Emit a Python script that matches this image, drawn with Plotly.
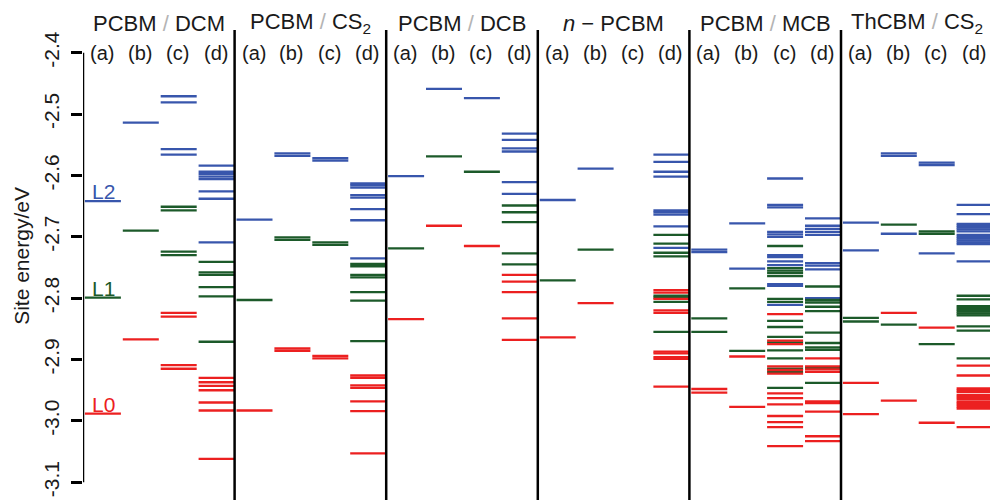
import plotly.graph_objects as go

# ---------------- data ----------------
panel_titles = ["PCBM<span style='color:#b4b4b4'> / </span>DCM",
                "PCBM<span style='color:#b4b4b4'> / </span>CS<sub>2</sub>",
                "PCBM<span style='color:#b4b4b4'> / </span>DCB",
                "<i>n</i> \u2212 PCBM",
                "PCBM<span style='color:#b4b4b4'> / </span>MCB",
                "ThCBM<span style='color:#b4b4b4'> / </span>CS<sub>2</sub>"]
column_labels = ["(a)", "(b)", "(c)", "(d)"]
tick_values = [-2.4, -2.5, -2.6, -2.7, -2.8, -2.9, -3.0, -3.1]
tick_labels = ["-2.4", "-2.5", "-2.6", "-2.7", "-2.8", "-2.9", "-3.0", "-3.1"]
level_names = ["L2", "L1", "L0"]

# site energies (eV), one list per column (a)-(d)
DCM_L2 = [[-2.642], [-2.514], [-2.471, -2.481, -2.557, -2.566],
          [-2.584, -2.594, -2.598, -2.602, -2.606, -2.626, -2.638, -2.709]]
DCM_L1 = [[-2.799], [-2.690], [-2.651, -2.657, -2.724, -2.730],
          [-2.741, -2.758, -2.762, -2.782, -2.797, -2.871]]
DCM_L0 = [[-2.988], [-2.867], [-2.824, -2.830, -2.909, -2.915],
          [-2.930, -2.937, -2.943, -2.950, -2.970, -2.983, -3.062]]

CS2_L2 = [[-2.672], [-2.564, -2.568], [-2.572, -2.576],
          [-2.613, -2.616, -2.620, -2.632, -2.636, -2.655, -2.673, -2.735]]
CS2_L1 = [[-2.803], [-2.701, -2.705], [-2.709, -2.713],
          [-2.744, -2.748, -2.762, -2.766, -2.790, -2.804, -2.870]]
CS2_L0 = [[-2.983], [-2.882, -2.886], [-2.894, -2.898],
          [-2.926, -2.930, -2.942, -2.946, -2.968, -2.984, -3.053]]

DCB_L2 = [[-2.601], [-2.459], [-2.474], [-2.532, -2.542, -2.556, -2.561, -2.611, -2.630]]
DCB_L1 = [[-2.719], [-2.569], [-2.594], [-2.649, -2.660, -2.676, -2.727, -2.745]]
DCB_L0 = [[-2.834], [-2.682], [-2.715], [-2.762, -2.773, -2.790, -2.833, -2.868]]

NP_L2 = [[-2.640], [-2.589], [],
         [-2.566, -2.578, -2.594, -2.602, -2.657, -2.660, -2.664, -2.683, -2.718]]
NP_L1 = [[-2.771], [-2.721], [],
         [-2.697, -2.711, -2.726, -2.732, -2.796, -2.799, -2.806, -2.855]]
NP_L0 = [[-2.864], [-2.808], [],
         [-2.787, -2.791, -2.801, -2.820, -2.824, -2.887, -2.890, -2.896, -2.899, -2.944]]

MCB_L2 = [[-2.721, -2.725], [-2.678, -2.752],
          [-2.605, -2.648, -2.652, -2.692, -2.696, -2.700, -2.730, -2.733, -2.740, -2.746,
           -2.777, -2.780, -2.811],
          [-2.670, -2.682, -2.687, -2.692, -2.697, -2.743, -2.747, -2.753, -2.800]]
MCB_L1 = [[-2.833, -2.855], [-2.784, -2.886],
          [-2.715, -2.751, -2.755, -2.759, -2.764, -2.801, -2.806, -2.837, -2.847, -2.863,
           -2.872, -2.885, -2.898, -2.915, -2.920, -2.946],
          [-2.781, -2.803, -2.807, -2.814, -2.821, -2.856, -2.873, -2.880, -2.884, -2.914, -2.938]]
MCB_L0 = [[-2.948, -2.954], [-2.895, -2.977],
          [-2.826, -2.869, -2.875, -2.911, -2.917, -2.923, -2.955, -2.963, -2.973, -2.992,
           -3.002, -3.010, -3.041],
          [-2.898, -2.911, -2.916, -2.920, -2.968, -2.971, -2.985, -3.025, -3.033]]

TH_L2 = [[-2.677, -2.722], [-2.564, -2.568, -2.695], [-2.579, -2.583, -2.727],
         [-2.648, -2.663, -2.679, -2.682, -2.685, -2.688, -2.691, -2.697, -2.700, -2.703,
          -2.706, -2.709, -2.712, -2.740]]
TH_L1 = [[-2.832, -2.838], [-2.680, -2.843], [-2.691, -2.695, -2.875],
         [-2.796, -2.802, -2.813, -2.816, -2.819, -2.822, -2.825, -2.828, -2.846, -2.853, -2.898]]
TH_L0 = [[-2.938, -2.989], [-2.824, -2.967], [-2.848, -3.003],
         [-2.910, -2.926, -2.947, -2.950, -2.953, -2.958, -2.961, -2.964, -2.968, -2.971,
          -2.974, -2.977, -2.980, -3.010]]

panels = [(DCM_L2, DCM_L1, DCM_L0), (CS2_L2, CS2_L1, CS2_L0), (DCB_L2, DCB_L1, DCB_L0),
          (NP_L2, NP_L1, NP_L0), (MCB_L2, MCB_L1, MCB_L0), (TH_L2, TH_L1, TH_L0)]

# ---------------- styling ----------------
COLORS = ["#3856ac", "#1c5a2a", "#ec2020"]
FONT = "Liberation Sans, Arial, Helvetica, sans-serif"
TEXT = "#1a1a1a"
COL_PX = 37.9           # pixels per column
LEFT, TOP, W, H = 83, 30, 990, 500
PX_PER_EV = 613.7
Y_TOP = -2.4 + (52.7 - TOP) / PX_PER_EV
Y_BOT = Y_TOP - (H - TOP) / PX_PER_EV
X_MAX = (W - LEFT) / COL_PX

fig = go.Figure()

for c_idx, color in enumerate(COLORS):
    xs, ys = [], []
    for p_idx, levels in enumerate(panels):
        for col, energies in enumerate(levels[c_idx]):
            x0 = p_idx * 4 + col + 0.05
            x1 = p_idx * 4 + col + 1.0
            for e in energies:
                xs += [x0, x1, None]
                ys += [e, e, None]
    fig.add_trace(go.Scatter(x=xs, y=ys, mode="lines",
                             line=dict(color=color, width=2.3),
                             hoverinfo="skip", showlegend=False))

shapes = []
# panel separators
for k in range(1, 6):
    shapes.append(dict(type="line", xref="x", yref="paper", x0=4 * k, x1=4 * k,
                       y0=0, y1=1, line=dict(color="black", width=2.5)))
# R-style y axis line
shapes.append(dict(type="line", xref="x", yref="y", x0=0, x1=0,
                   y0=tick_values[-1], y1=tick_values[0],
                   line=dict(color="black", width=2.5)))

annotations = []
for p_idx, title in enumerate(panel_titles):
    annotations.append(dict(x=p_idx * 4 + 2, y=1, xref="x", yref="paper", yshift=7,
                            text=title, showarrow=False, xanchor="center", yanchor="middle",
                            font=dict(family=FONT, size=22, color=TEXT)))
    for col, lab in enumerate(column_labels):
        annotations.append(dict(x=p_idx * 4 + col + 0.5, y=1, xref="x", yref="paper",
                                yshift=-23, text=lab, showarrow=False,
                                xanchor="center", yanchor="middle",
                                font=dict(family=FONT, size=20, color=TEXT)))
# level labels L2/L1/L0 on the PCBM/DCM (a) column
for c_idx, name in enumerate(level_names):
    annotations.append(dict(x=0.53, y=panels[0][c_idx][0][0], xref="x", yref="y",
                            text=name, showarrow=False, xanchor="center",
                            yanchor="bottom", yshift=-4,
                            font=dict(family=FONT, size=21, color=COLORS[c_idx])))
# axis title
annotations.append(dict(x=0, y=-2.731, xref="paper", yref="y", xshift=-61,
                        text="Site energy/eV", textangle=-90, showarrow=False,
                        xanchor="center", yanchor="middle",
                        font=dict(family=FONT, size=21, color=TEXT)))

fig.update_layout(
    width=W, height=H,
    margin=dict(l=LEFT, r=0, t=TOP, b=0, pad=0),
    plot_bgcolor="white", paper_bgcolor="white",
    xaxis=dict(range=[0, X_MAX], visible=False),
    yaxis=dict(range=[Y_BOT, Y_TOP], tickvals=tick_values, ticktext=tick_labels,
               tickangle=-90, ticks="outside", ticklen=11, tickwidth=2.5,
               tickcolor="black", showgrid=False, zeroline=False, showline=False,
               ticklabelstandoff=4,
               tickfont=dict(family=FONT, size=21, color=TEXT)),
    shapes=shapes, annotations=annotations,
)

fig.write_html("out.html")
